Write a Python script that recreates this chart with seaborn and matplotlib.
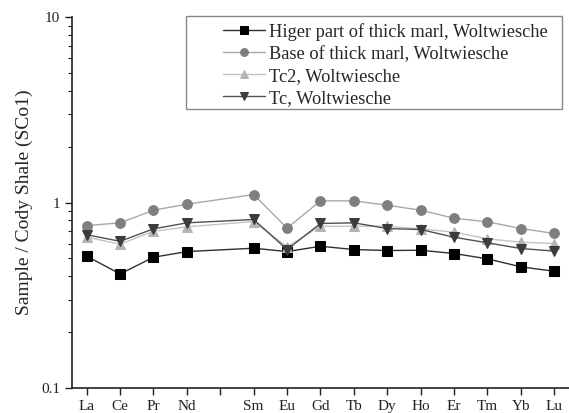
import matplotlib
matplotlib.use("Agg")
import matplotlib.pyplot as plt
import seaborn as sns
import pandas as pd
import numpy as np
from matplotlib.ticker import LogLocator, NullFormatter, FixedLocator
from matplotlib.patches import Rectangle

elements = ["La", "Ce", "Pr", "Nd", "Pm", "Sm", "Eu", "Gd", "Tb", "Dy", "Ho", "Er", "Tm", "Yb", "Lu"]
plotted = ["La", "Ce", "Pr", "Nd", "Sm", "Eu", "Gd", "Tb", "Dy", "Ho", "Er", "Tm", "Yb", "Lu"]

higher = [0.514, 0.412, 0.507, 0.544, 0.567, 0.544, 0.581, 0.558, 0.551, 0.553, 0.531, 0.497, 0.450, 0.426]
base = [0.751, 0.777, 0.909, 0.979, 1.104, 0.727, 1.021, 1.021, 0.967, 0.909, 0.823, 0.787, 0.724, 0.681]
tc2 = [0.650, 0.596, 0.700, 0.739, 0.790, 0.577, 0.745, 0.745, 0.745, 0.721, 0.692, 0.637, 0.611, 0.601]
tc = [0.670, 0.618, 0.721, 0.777, 0.810, 0.558, 0.771, 0.777, 0.724, 0.715, 0.650, 0.606, 0.565, 0.547]

series = [
    ("Higer part of thick marl, Woltwiesche", higher, "s", "#000000", "#303030"),
    ("Base of thick marl, Woltwiesche", base, "o", "#7f7f7f", "#a8a8a8"),
    ("Tc2, Woltwiesche", tc2, "^", "#b4b4b4", "#c4c4c4"),
    ("Tc, Woltwiesche", tc, "v", "#3c3c3c", "#505050"),
]

sns.set_style("ticks")
plt.rcParams["font.family"] = ["Liberation Serif", "DejaVu Serif"]

fig = plt.figure(figsize=(5.69, 4.13), dpi=100)
ax = fig.add_axes([0.1265, 0.0605, 0.8735, 0.8983])

pos = {e: i for i, e in enumerate(elements)}
for name, vals, mk, mc, lc in series:
    df = pd.DataFrame({"x": [pos[e] for e in plotted], "y": vals})
    sns.lineplot(data=df, x="x", y="y", ax=ax, color=lc, linewidth=1.0,
                 marker=mk, markersize=7 if mk != "s" else 6.5,
                 markerfacecolor=mc, markeredgecolor=mc, label=name, sort=False)

ax.set_yscale("log")
ax.set_ylim(0.1, 10)
ax.set_xlim(-0.44, 14.44)
ax.xaxis.set_major_locator(FixedLocator(range(len(elements))))
ax.set_xticklabels([e if e != "Pm" else "" for e in elements], fontsize=11)
ax.set_yticks([0.1, 1, 10])
ax.set_yticklabels(["0.1", "1", "10"], fontsize=11)
ax.yaxis.set_minor_locator(LogLocator(base=10, subs=np.arange(2, 10)))
ax.yaxis.set_minor_formatter(NullFormatter())
ax.tick_params(axis="both", which="major", direction="out", length=5, width=1, colors="#222222")
ax.tick_params(axis="y", which="minor", direction="out", length=3, width=0.8, colors="#222222")
ax.set_xlabel("")
ax.set_ylabel("Sample / Cody Shale (SCo1)", fontsize=14, labelpad=6)
for s in ["top", "right"]:
    ax.spines[s].set_visible(False)
for s in ["left", "bottom"]:
    ax.spines[s].set_linewidth(1.2)
    ax.spines[s].set_color("#222222")

W, H = 569.0, 413.0
leg = ax.legend(loc="upper left", bbox_to_anchor=(223 / W, 1 - 23 / H), bbox_transform=fig.transFigure,
                fontsize=13.2, frameon=False, handlelength=2.3, labelspacing=0.27,
                borderpad=0.0, borderaxespad=0.0, handletextpad=0.2, markerscale=0.8)
leg.set_zorder(6)
frame = Rectangle((186 / W, 1 - 109 / H), 376 / W, 93 / H, transform=fig.transFigure,
                  facecolor="white", edgecolor="#888888", linewidth=1.0, zorder=5, clip_on=False)
ax.add_patch(frame)

fig.savefig("out.png", dpi=100)
